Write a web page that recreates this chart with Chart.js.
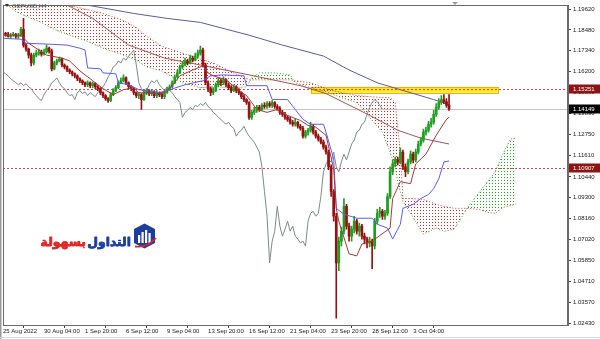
<!DOCTYPE html>
<html><head><meta charset="utf-8">
<script src="https://cdn.jsdelivr.net/npm/chart.js@4.4.1/dist/chart.umd.min.js"></script>
<style>html,body{margin:0;padding:0;background:#fff;overflow:hidden}#wrap{width:600px;height:339px;position:relative;background:#fff}</style>
</head><body><div id="wrap"><canvas id="c" width="600" height="339"></canvas></div>
<script>
// ---- Data (GBPUSD H4) ----
const firstOpen = 1.1824;
const closes = [
1.1830,1.1824,1.1813,1.1819,1.1824,1.1813,1.1819,1.1851,1.1765,1.1743,
1.1710,1.1667,1.1710,1.1721,1.1727,1.1716,1.1727,1.1748,1.1732,1.1635,
1.1667,1.1678,1.1689,1.1656,1.1646,1.1629,1.1619,1.1608,1.1597,1.1581,
1.1570,1.1559,1.1548,1.1559,1.1543,1.1554,1.1537,1.1527,1.1505,1.1489,
1.1472,1.1462,1.1494,1.1516,1.1532,1.1559,1.1570,1.1586,1.1559,1.1537,
1.1527,1.1505,1.1489,1.1494,1.1467,1.1505,1.1516,1.1500,1.1510,1.1489,
1.1505,1.1494,1.1483,1.1505,1.1521,1.1537,1.1559,1.1591,1.1613,1.1646,
1.1656,1.1678,1.1667,1.1694,1.1683,1.1705,1.1721,1.1738,1.1656,1.1559,
1.1527,1.1505,1.1516,1.1548,1.1570,1.1559,1.1575,1.1548,1.1532,1.1516,
1.1537,1.1516,1.1505,1.1483,1.1467,1.1451,1.1370,1.1397,1.1408,1.1424,
1.1413,1.1435,1.1429,1.1445,1.1435,1.1451,1.1429,1.1418,1.1397,1.1386,
1.1370,1.1359,1.1343,1.1332,1.1343,1.1321,1.1310,1.1267,1.1289,1.1299,
1.1321,1.1289,1.1267,1.1251,1.1234,1.1207,1.1180,1.1099,1.0964,1.0829,
1.0574,1.0693,1.0747,1.0883,1.0775,1.0720,1.0758,1.0802,1.0747,1.0775,
1.0720,1.0704,1.0683,1.0693,1.0666,1.0802,1.0845,1.0856,1.0829,1.0845,
1.0937,1.1072,1.1115,1.1137,1.1126,1.1180,1.1099,1.1072,1.1126,1.1169,
1.1137,1.1180,1.1224,1.1245,1.1289,1.1299,1.1332,1.1343,1.1386,1.1424,
1.1451,1.1467,1.1456,1.1435,1.1415];
const highs = [
1.1840,1.1835,1.1835,1.1830,1.1835,1.1830,1.1830,1.1862,1.1911,1.1775,
1.1748,1.1721,1.1721,1.1738,1.1743,1.1738,1.1743,1.1765,1.1754,1.1743,
1.1678,1.1689,1.1700,1.1694,1.1662,1.1651,1.1635,1.1624,1.1613,1.1602,
1.1586,1.1575,1.1564,1.1570,1.1564,1.1564,1.1559,1.1543,1.1532,1.1510,
1.1494,1.1478,1.1505,1.1527,1.1543,1.1570,1.1586,1.1602,1.1591,1.1564,
1.1543,1.1532,1.1510,1.1505,1.1500,1.1516,1.1527,1.1521,1.1521,1.1516,
1.1516,1.1510,1.1505,1.1516,1.1532,1.1548,1.1570,1.1602,1.1629,1.1656,
1.1673,1.1694,1.1689,1.1710,1.1705,1.1721,1.1738,1.1759,1.1748,1.1667,
1.1570,1.1537,1.1532,1.1559,1.1586,1.1581,1.1591,1.1581,1.1559,1.1543,
1.1548,1.1543,1.1527,1.1510,1.1494,1.1472,1.1456,1.1408,1.1424,1.1435,
1.1435,1.1445,1.1451,1.1456,1.1456,1.1462,1.1456,1.1440,1.1429,1.1408,
1.1397,1.1380,1.1370,1.1353,1.1359,1.1348,1.1332,1.1321,1.1299,1.1310,
1.1343,1.1332,1.1299,1.1278,1.1261,1.1245,1.1218,1.1191,1.1110,1.0975,
1.0845,1.0715,1.0769,1.0926,1.0894,1.0791,1.0775,1.0829,1.0812,1.0791,
1.0785,1.0737,1.0715,1.0715,1.0704,1.0818,1.0866,1.0877,1.0866,1.0861,
1.0953,1.1099,1.1137,1.1153,1.1153,1.1202,1.1191,1.1115,1.1142,1.1186,
1.1180,1.1196,1.1240,1.1261,1.1305,1.1316,1.1348,1.1364,1.1408,1.1445,
1.1472,1.1489,1.1494,1.1472,1.1494];
const lows = [
1.1813,1.1813,1.1808,1.1802,1.1813,1.1802,1.1802,1.1813,1.1754,1.1732,
1.1694,1.1651,1.1656,1.1700,1.1710,1.1705,1.1710,1.1721,1.1721,1.1624,
1.1629,1.1656,1.1673,1.1646,1.1635,1.1619,1.1608,1.1597,1.1586,1.1570,
1.1559,1.1548,1.1537,1.1537,1.1532,1.1532,1.1527,1.1516,1.1494,1.1478,
1.1462,1.1451,1.1456,1.1489,1.1510,1.1527,1.1554,1.1564,1.1548,1.1527,
1.1516,1.1494,1.1478,1.1472,1.1413,1.1462,1.1494,1.1489,1.1489,1.1478,
1.1478,1.1483,1.1472,1.1472,1.1500,1.1516,1.1532,1.1554,1.1586,1.1608,
1.1635,1.1651,1.1656,1.1662,1.1673,1.1678,1.1694,1.1710,1.1646,1.1548,
1.1510,1.1489,1.1494,1.1510,1.1537,1.1543,1.1548,1.1537,1.1521,1.1505,
1.1510,1.1505,1.1494,1.1472,1.1456,1.1440,1.1359,1.1359,1.1386,1.1397,
1.1402,1.1408,1.1418,1.1418,1.1424,1.1424,1.1418,1.1408,1.1386,1.1375,
1.1359,1.1348,1.1332,1.1321,1.1321,1.1310,1.1299,1.1256,1.1256,1.1272,
1.1289,1.1278,1.1256,1.1240,1.1224,1.1196,1.1169,1.1083,1.0937,1.0802,
1.0271,1.0531,1.0666,1.0731,1.0758,1.0693,1.0693,1.0737,1.0731,1.0720,
1.0704,1.0677,1.0656,1.0661,1.0542,1.0650,1.0785,1.0823,1.0812,1.0812,
1.0834,1.0926,1.1056,1.1099,1.1110,1.1115,1.1083,1.1045,1.1061,1.1115,
1.1121,1.1126,1.1169,1.1213,1.1234,1.1272,1.1289,1.1316,1.1332,1.1375,
1.1413,1.1440,1.1445,1.1424,1.1408];

const kijunBars = [0,7,9,18,25,30,32,33,38,39,44,45,49,53,61,65,71,78,81,86,94,95,103,105,111,114,117,120,125,126,129,130,133,138,144,146,150,152,155,156,160,163,166,168,170,172,174];
const kijun = [1.1802,1.1797,1.1775,1.1770,1.1765,1.1748,1.1738,1.1640,1.1635,1.1613,1.1608,1.1559,1.1548,1.1521,1.1505,1.1521,1.1548,1.1570,1.1597,1.1602,1.1597,1.1543,1.1543,1.1467,1.1467,1.1413,1.1359,1.1332,1.1332,1.1289,1.1142,1.0872,1.0840,1.0818,1.0818,1.0785,1.0764,1.0704,1.0785,1.0872,1.0894,1.0926,1.0948,1.0980,1.1034,1.1126,1.1131];

const tenkanBars = [0,7,10,17,23,26,30,35,39,43,47,51,53,60,63,66,69,74,78,80,82,87,92,95,99,103,107,111,116,119,122,126,129,130,131,135,138,140,144,151,152,155,159,161,165,169,173,174];
const tenkan = [1.1819,1.1819,1.1775,1.1710,1.1694,1.1678,1.1624,1.1570,1.1527,1.1494,1.1521,1.1532,1.1505,1.1500,1.1505,1.1543,1.1597,1.1629,1.1651,1.1613,1.1597,1.1575,1.1516,1.1489,1.1413,1.1397,1.1413,1.1380,1.1353,1.1326,1.1316,1.1272,1.1088,1.0872,1.0802,1.0623,1.0612,1.0677,1.0693,1.0764,1.0926,1.1018,1.1007,1.1115,1.1169,1.1272,1.1359,1.1370];

const maMidBars = [10,24,35,49,63,77,96,116,126,143,154,163,174];
const maMid = [1.2060,1.1992,1.1911,1.1765,1.1694,1.1656,1.1602,1.1543,1.1500,1.1381,1.1299,1.1256,1.1224];

const maSlowBars = [20,34,51,64,77,96,109,125,135,146,155,168,174];
const maSlow = [1.2030,1.1981,1.1938,1.1911,1.1889,1.1819,1.1765,1.1705,1.1629,1.1559,1.1521,1.1467,1.1440];

const cloudBars = [0,5,10,15,20,26,33,39,46,52,56,62,70,77,82,90,95,97,100,106,112,114,120,126,132,138,143,148,151,153,154,155,156,157,159,164,169,172,176,181,186,189,192,195,198,200];
const senkouA = [1.2003,1.1949,1.1916,1.1889,1.1851,1.1819,1.1786,1.1748,1.1716,1.1683,1.1646,1.1624,1.1559,1.1532,1.1537,1.1532,1.1537,1.1586,1.1613,1.1613,1.1602,1.1559,1.1532,1.1510,1.1478,1.1451,1.1370,1.1289,1.1180,1.1099,1.1018,1.0964,1.0910,1.0888,1.0845,1.0731,1.0764,1.0747,1.0758,1.0872,1.0964,1.1018,1.1072,1.1169,1.1251,1.1256];
const senkouB = [1.2046,1.2035,1.2024,1.2013,1.2003,1.1981,1.1959,1.1938,1.1905,1.1862,1.1813,1.1759,1.1721,1.1689,1.1667,1.1613,1.1581,1.1575,1.1575,1.1575,1.1575,1.1570,1.1559,1.1527,1.1505,1.1489,1.1483,1.1478,1.1478,1.1451,1.1316,1.1180,1.0926,1.0926,1.0926,1.0921,1.0894,1.0883,1.0872,1.0872,1.0866,1.0850,1.0845,1.0877,1.0888,1.0894];
const chikouShift = 26;

const xTickBars = [0,16,32,48,64,80,96,112,128,144,160];
const xTickLabels = ['25 Aug 2022','30 Aug 04:00','1 Sep 20:00','6 Sep 12:00','9 Sep 04:00','13 Sep 20:00','16 Sep 12:00','21 Sep 04:00','23 Sep 20:00','28 Sep 12:00','3 Oct 04:00'];
const yTickValues = [1.19620,1.18480,1.17340,1.16200,1.15060,1.13890,1.12750,1.11610,1.10440,1.09300,1.08160,1.07020,1.05850,1.04710,1.03570,1.02430];

const levelPrices = [1.15251, 1.10907];
const bidPrice = 1.14149;
const zoneBars = [120, 193];
const zonePrices = [1.1537, 1.1505];
const symbolTitle = 'GBPUSD,H4';
const logoWords = ['التداول', 'بسهولة'];

// ---- build ----
const opens = closes.map((c, i) => i === 0 ? firstOpen : closes[i - 1]);
const UP = '#1f9f1f', DN = '#9a1010';
const candleColors = closes.map((c, i) => c >= opens[i] ? UP : DN);
const pts = (xs, ys) => xs.map((x, i) => ({x, y: ys[i]}));

function dots(color, w, h) {
  const c = document.createElement('canvas'); c.width = w; c.height = h;
  const g = c.getContext('2d'); g.fillStyle = color; g.fillRect(0, 0, 1, 1);
  return g.createPattern(c, 'repeat');
}
const redDots = dots('rgb(205,40,40)', 3, 3);
const greenDots = dots('rgb(30,165,30)', 3, 3);

const mt4 = {
  id: 'mt4',
  beforeDatasetsDraw(chart) {
    const {ctx, chartArea: a, scales: {x, y}} = chart;
    ctx.save();
    ctx.beginPath(); ctx.rect(a.left, a.top, a.right - a.left, a.bottom - a.top); ctx.clip();
    const zx1 = x.getPixelForValue(zoneBars[0]), zx2 = x.getPixelForValue(zoneBars[1]);
    const zy1 = y.getPixelForValue(zonePrices[0]), zy2 = y.getPixelForValue(zonePrices[1]);
    ctx.fillStyle = '#ffe626'; ctx.fillRect(zx1, zy1, zx2 - zx1, zy2 - zy1);
    ctx.strokeStyle = '#f0b400'; ctx.lineWidth = 1;
    ctx.strokeRect(Math.round(zx1) + .5, Math.round(zy1) + .5, Math.round(zx2 - zx1), Math.round(zy2 - zy1));
    const by = Math.round(y.getPixelForValue(bidPrice)) + .5;
    ctx.strokeStyle = '#c6c6c6'; ctx.beginPath(); ctx.moveTo(a.left, by); ctx.lineTo(a.right, by); ctx.stroke();
    ctx.strokeStyle = '#c84a4a'; ctx.setLineDash([2, 2]);
    levelPrices.forEach(p => {
      const ly = Math.round(y.getPixelForValue(p)) + .5;
      ctx.beginPath(); ctx.moveTo(a.left, ly); ctx.lineTo(a.right, ly); ctx.stroke();
    });
    ctx.restore();
  },
  afterDraw(chart) {
    const {ctx, chartArea: a, scales: {y}} = chart;
    ctx.save();
    ctx.fillStyle = '#9a9a9a'; ctx.fillRect(0, 0, 1.5, 339);
    ctx.strokeStyle = '#6a6a6a'; ctx.lineWidth = 1;
    ctx.strokeRect(Math.round(a.left) + .5, Math.round(a.top) - .5, Math.round(a.right - a.left) - 1, Math.round(a.bottom - a.top) + 1);
    ctx.strokeStyle = '#d8d8d8'; ctx.beginPath(); ctx.moveTo(0, 337.5); ctx.lineTo(600, 337.5); ctx.stroke();
    ctx.font = '6px "Liberation Sans", Arial, sans-serif';
    ctx.textBaseline = 'middle'; ctx.textAlign = 'left';
    const box = (p, bg) => {
      const py = Math.round(y.getPixelForValue(p));
      ctx.fillStyle = bg; ctx.fillRect(a.right + 1, py - 4.5, 600 - a.right - 1, 9);
      ctx.fillStyle = '#ffffff'; ctx.fillText(p.toFixed(5), a.right + 5, py + .5);
    };
    box(levelPrices[0], '#8e1414');
    box(bidPrice, '#000000');
    box(levelPrices[1], '#8e1414');
    ctx.fillStyle = '#333'; ctx.beginPath(); ctx.moveTo(5, 4); ctx.lineTo(9, 4); ctx.lineTo(7, 7); ctx.closePath(); ctx.fill();
    ctx.fillStyle = '#555'; ctx.textAlign = 'left'; ctx.fillText(symbolTitle, 12, 6);
    ctx.fillStyle = '#9a9a9a'; ctx.beginPath(); ctx.moveTo(452, 2); ctx.lineTo(458, 2); ctx.lineTo(455, 5); ctx.closePath(); ctx.fill();
    // logo icon
    ctx.fillStyle = '#1c3f9e';
    ctx.beginPath(); ctx.moveTo(134, 229); ctx.lineTo(144.5, 223.5); ctx.lineTo(155, 229); ctx.lineTo(155, 243); ctx.lineTo(144.5, 248.5); ctx.lineTo(134, 243); ctx.closePath(); ctx.fill();
    ctx.fillStyle = '#ffffff';
    ctx.fillRect(138, 235, 2.2, 8); ctx.fillRect(141.5, 232, 2.2, 11); ctx.fillRect(145, 230, 2.2, 13); ctx.fillRect(148.5, 233, 2.2, 10);
    ctx.strokeStyle = '#e52323'; ctx.lineWidth = 1.8;
    ctx.beginPath(); ctx.moveTo(135, 246.5); ctx.quadraticCurveTo(147, 248, 156, 238); ctx.stroke();
    // logo text
    ctx.textBaseline = 'alphabetic'; ctx.textAlign = 'right';
    let fs = 16;
    ctx.font = 'bold ' + fs + 'px "DejaVu Sans", sans-serif';
    const w0 = ctx.measureText(logoWords[0]).width;
    fs = Math.max(10, Math.min(22, fs * 44 / w0));
    ctx.font = 'bold ' + fs.toFixed(1) + 'px "DejaVu Sans", sans-serif';
    ctx.lineJoin = 'round';
    ctx.fillStyle = '#1c3f9e'; ctx.strokeStyle = '#1c3f9e'; ctx.lineWidth = 0.8;
    ctx.fillText(logoWords[0], 131, 246); ctx.strokeText(logoWords[0], 131, 246);
    ctx.fillStyle = '#e52323'; ctx.strokeStyle = '#e52323';
    ctx.fillText(logoWords[1], 86, 246); ctx.strokeText(logoWords[1], 86, 246);
    ctx.restore();
  }
};

Chart.defaults.font.family = '"Liberation Sans", Arial, sans-serif';
Chart.defaults.font.size = 6;
Chart.defaults.color = '#1a1a1a';

const lineDs = (label, data, color, order, extra) => Object.assign({
  type: 'line', label, data, borderColor: color, borderWidth: 1, pointRadius: 0,
  fill: false, tension: 0, order
}, extra || {});

new Chart(document.getElementById('c'), {
  type: 'bar',
  data: {
    datasets: [
      lineDs('Senkou B', pts(cloudBars, senkouB), 'rgb(200,60,60)', 30, {borderDash: [1, 2]}),
      lineDs('Senkou A', pts(cloudBars, senkouA), 'rgb(40,165,40)', 29, {borderDash: [1, 2], fill: {target: 0, above: greenDots, below: redDots}}),
      lineDs('Chikou', closes.map((c, i) => ({x: i - chikouShift, y: c})), '#7d8b8b', 20),
      lineDs('MA slow', pts(maSlowBars, maSlow), '#5a5aa6', 19),
      lineDs('MA mid', pts(maMidBars, maMid), '#a65252', 18),
      {type: 'bar', label: 'wick', data: closes.map((c, i) => ({x: i, y: [lows[i], highs[i]]})),
        backgroundColor: candleColors, barThickness: 1, grouped: false, order: 10, borderWidth: 0},
      {type: 'bar', label: 'body', data: closes.map((c, i) => ({x: i, y: [opens[i], c]})),
        backgroundColor: candleColors, barThickness: 2, grouped: false, order: 9, borderWidth: 0, minBarLength: 1},
      lineDs('Kijun', pts(kijunBars, kijun), '#5b5bff', 5),
      lineDs('Tenkan', pts(tenkanBars, tenkan), '#a33a3a', 4)
    ]
  },
  options: {
    responsive: false, animation: false, devicePixelRatio: 1,
    layout: {padding: {left: 3, top: 2, right: 0, bottom: 0}},
    plugins: {legend: {display: false}, tooltip: {enabled: false}},
    scales: {
      x: {
        type: 'linear', min: 0, max: 220.4, offset: false,
        afterBuildTicks: s => { s.ticks = xTickBars.map(v => ({value: v})); },
        afterFit: s => { s.height = 14; },
        ticks: {autoSkip: false, maxRotation: 0, minRotation: 0, align: 'start', padding: 0,
          callback: v => xTickLabels[xTickBars.indexOf(v)] || ''},
        grid: {drawOnChartArea: false, drawTicks: true, tickLength: 3, color: '#444'},
        border: {display: true, color: '#6a6a6a'}
      },
      y: {
        position: 'right', min: 1.0234, max: 1.1981,
        afterBuildTicks: s => { s.ticks = yTickValues.map(v => ({value: v})); },
        afterFit: s => { s.width = 32; },
        ticks: {autoSkip: false, padding: 2, callback: v => Number(v).toFixed(5)},
        grid: {drawOnChartArea: false, drawTicks: true, tickLength: 3, color: '#444'},
        border: {display: true, color: '#6a6a6a'}
      }
    }
  },
  plugins: [mt4]
});
</script>
</body></html>
